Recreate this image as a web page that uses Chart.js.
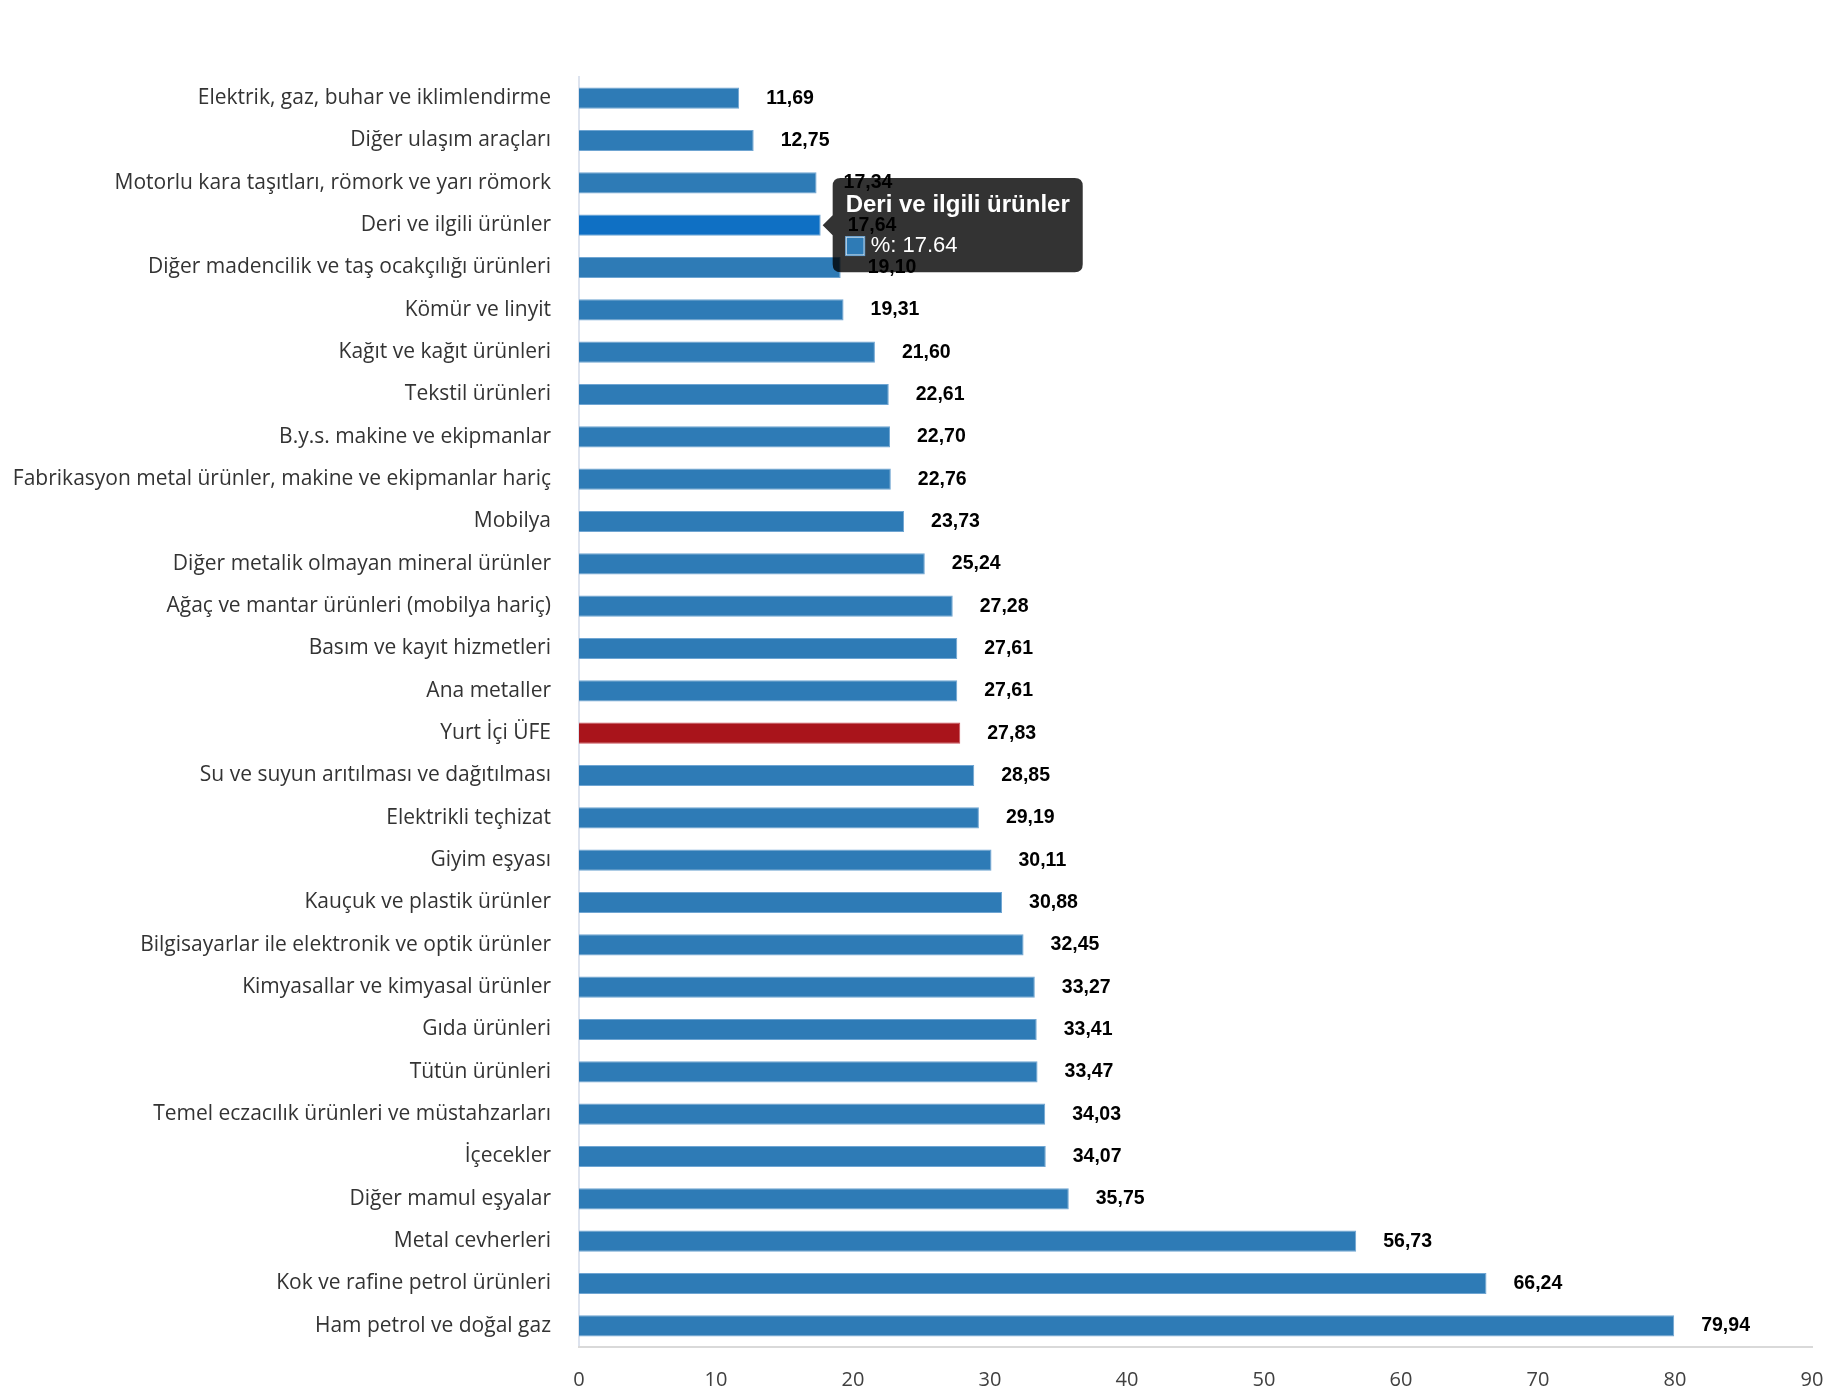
<!DOCTYPE html>
<html>
<head>
<meta charset="utf-8">
<script src="https://cdn.jsdelivr.net/npm/chart.js@4/dist/chart.umd.min.js"></script>
<style>
  html, body { margin: 0; padding: 0; background: #fff; }
  #wrap { width: 1830px; height: 1400px; }
</style>
</head>
<body>
<div id="wrap"><canvas id="c"></canvas></div>
<script>
const categories = [
  "Elektrik, gaz, buhar ve iklimlendirme",
  "Diğer ulaşım araçları",
  "Motorlu kara taşıtları, römork ve yarı römork",
  "Deri ve ilgili ürünler",
  "Diğer madencilik ve taş ocakçılığı ürünleri",
  "Kömür ve linyit",
  "Kağıt ve kağıt ürünleri",
  "Tekstil ürünleri",
  "B.y.s. makine ve ekipmanlar",
  "Fabrikasyon metal ürünler, makine ve ekipmanlar hariç",
  "Mobilya",
  "Diğer metalik olmayan mineral ürünler",
  "Ağaç ve mantar ürünleri (mobilya hariç)",
  "Basım ve kayıt hizmetleri",
  "Ana metaller",
  "Yurt İçi ÜFE",
  "Su ve suyun arıtılması ve dağıtılması",
  "Elektrikli teçhizat",
  "Giyim eşyası",
  "Kauçuk ve plastik ürünler",
  "Bilgisayarlar ile elektronik ve optik ürünler",
  "Kimyasallar ve kimyasal ürünler",
  "Gıda ürünleri",
  "Tütün ürünleri",
  "Temel eczacılık ürünleri ve müstahzarları",
  "İçecekler",
  "Diğer mamul eşyalar",
  "Metal cevherleri",
  "Kok ve rafine petrol ürünleri",
  "Ham petrol ve doğal gaz"
];

const values = [
  11.69, 12.75, 17.34, 17.64, 19.10, 19.31, 21.60, 22.61, 22.70, 22.76,
  23.73, 25.24, 27.28, 27.61, 27.61, 27.83, 28.85, 29.19, 30.11, 30.88,
  32.45, 33.27, 33.41, 33.47, 34.03, 34.07, 35.75, 56.73, 66.24, 79.94
];

const highlight = "Yurt İçi ÜFE";
const hovered = "Deri ve ilgili ürünler";

const blue = "#2e7bb6";
const red = "#a9141b";

const barColors = categories.map(c => c === highlight ? red : blue);
const barBorders = categories.map(c => c === highlight ? "#c9505a" : "#6fa5d2");

// value labels, drawn last so they sit on top of everything
const valueLabels = {
  id: "valueLabels",
  afterDraw(chart) {
    const ctx = chart.ctx;
    const meta = chart.getDatasetMeta(0);
    ctx.save();
    ctx.font = "bold 19.5px 'Liberation Sans', Arial, sans-serif";
    ctx.fillStyle = "#000";
    ctx.textAlign = "left";
    ctx.textBaseline = "middle";
    meta.data.forEach((bar, i) => {
      const txt = values[i].toFixed(2).replace(".", ",");
      ctx.fillText(txt, bar.x + 27, bar.y);
    });
    ctx.restore();
  }
};

const chart = new Chart(document.getElementById("c"), {
  type: "bar",
  data: {
    labels: categories,
    datasets: [{
      label: "%",
      data: values,
      backgroundColor: barColors,
      borderColor: barBorders,
      borderWidth: 1,
      hoverBackgroundColor: categories.map(c => c === highlight ? red : "#0f70c4"),
      hoverBorderColor: barBorders,
      barPercentage: 0.5,
      categoryPercentage: 1
    }]
  },
  options: {
    indexAxis: "y",
    responsive: true,
    maintainAspectRatio: false,
    animation: false,
    layout: { padding: { top: 77, right: 18, bottom: 0, left: 0 } },
    scales: {
      y: {
        grid: { display: false, drawTicks: false },
        border: { display: true, color: "#dde3ee", width: 2 },
        ticks: {
          color: "#333333",
          padding: 28,
          font: { family: "'Open Sans', sans-serif", size: 21 }
        },
        afterFit(scale) { scale.width = 579; }
      },
      x: {
        min: 0,
        max: 90,
        grid: { display: false, drawTicks: false },
        border: { display: true, color: "#d9d9d9", width: 2 },
        ticks: {
          stepSize: 10,
          color: "#404040",
          padding: 3,
          font: { family: "'Open Sans', sans-serif", size: 20, lineHeight: 3 }
        },
        afterFit(scale) { scale.height = 53; }
      }
    },
    plugins: {
      legend: { display: false },
      title: { display: false },
      tooltip: {
        backgroundColor: "rgba(0,0,0,0.8)",
        titleFont: { family: "Arial, 'Liberation Sans', sans-serif", size: 24, weight: "bold" },
        bodyFont: { family: "Arial, 'Liberation Sans', sans-serif", size: 22 },
        titleMarginBottom: 13,
        padding: 13,
        caretSize: 10,
        caretPadding: 2,
        cornerRadius: 8,
        boxWidth: 19,
        boxHeight: 19,
        boxPadding: 4
      }
    }
  },
  plugins: [valueLabels]
});

// reproduce the hovered bar with its tooltip
const idx = categories.indexOf(hovered);
const bar = chart.getDatasetMeta(0).data[idx];
chart.setActiveElements([{ datasetIndex: 0, index: idx }]);
chart.tooltip.setActiveElements([{ datasetIndex: 0, index: idx }], { x: bar.x, y: bar.y });
chart.update();
</script>
</body>
</html>
